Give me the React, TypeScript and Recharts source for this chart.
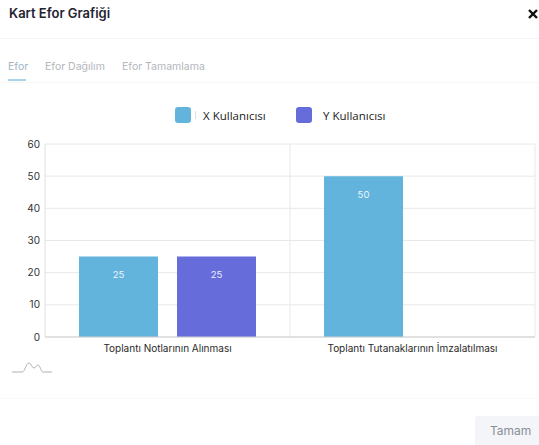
import React from "react";
import { BarChart, Bar, XAxis, YAxis, CartesianGrid, Legend, LabelList } from "recharts";

const categories = ["Toplantı Notlarının Alınması", "Toplantı Tutanaklarının İmzalatılması"];
const xKullanici = [25, 50];
const yKullanici = [25, 0];
const yTicks = [0, 10, 20, 30, 40, 50, 60];
const tabs = ["Efor", "Efor Dağılım", "Efor Tamamlama"];

const data = categories.map((name, i) => ({ name, x: xKullanici[i], y: yKullanici[i] }));

const X_COLOR = "#63b4dc";
const Y_COLOR = "#666ddb";
const FONT = "Inter, 'Noto Sans', sans-serif";

function renderLegend(props: any) {
  const payload = props.payload || [];
  return (
    <div style={{ height: 44, position: "relative", paddingLeft: 175, display: "flex", alignItems: "flex-start" }}>
      {payload.map((p: any, i: number) => (
        <div key={i} style={{ display: "flex", alignItems: "center", width: 121, marginTop: 7 }}>
          <span style={{ width: 16, height: 16, borderRadius: 3, background: p.color, display: "inline-block" }} />
          {i === 0 && <span style={{ width: 1, height: 8, background: "#ddd", marginLeft: 4, marginRight: -5 }} />}
          <span style={{ marginLeft: i === 0 ? 12 : 11, fontFamily: "'Open Sans', sans-serif", fontSize: 11.5, color: "#222" }}>{p.value}</span>
        </div>
      ))}
    </div>
  );
}

const fmt = (v: any) => (v ? v : "");

export default function App() {
  return (
    <div style={{ position: "absolute", left: 0, top: 0, width: 539, height: 445, background: "#fff", overflow: "hidden", fontFamily: FONT }}>
      {/* header */}
      <div style={{ position: "absolute", left: 9, top: 5, fontSize: 13, fontWeight: 600, color: "#1f2430" }}>Kart Efor Grafiği</div>
      <svg style={{ position: "absolute", left: 528, top: 9 }} width={10} height={10}>
        <line x1={1} y1={1} x2={9} y2={9} stroke="#111" strokeWidth={2.4} />
        <line x1={9} y1={1} x2={1} y2={9} stroke="#111" strokeWidth={2.4} />
      </svg>
      <div style={{ position: "absolute", left: 0, top: 38, width: 539, height: 1, background: "#f3f4f6" }} />

      {/* tabs */}
      {tabs.map((t, i) => (
        <div key={t} style={{ position: "absolute", left: [8, 45, 122][i], top: 60, fontSize: 10.5, color: i === 0 ? "#9fb3c4" : "#b3b7bd" }}>{t}</div>
      ))}
      <div style={{ position: "absolute", left: 8, top: 79, width: 18, height: 1.5, background: "#a9d5ec" }} />
      <div style={{ position: "absolute", left: 0, top: 82, width: 539, height: 1, background: "#f7f7f8" }} />

      {/* chart */}
      <div style={{ position: "absolute", left: 0, top: 95 }}>
        <BarChart width={539} height={285} data={data} margin={{ top: 5, right: 4, left: 0, bottom: 13 }} barGap={19} barCategoryGap={34}>
          <CartesianGrid
            stroke="#e8e8e8"
            verticalCoordinatesGenerator={({ offset }: any) => [offset.left + offset.width / 2, offset.left + offset.width]}
          />
          <XAxis
            dataKey="name"
            tick={{ fontSize: 10, fill: "#2a2a2a", fontFamily: FONT }}
            tickLine={false}
            axisLine={{ stroke: "#cfcfcf" }}
          />
          <YAxis
            width={45}
            domain={[0, 60]}
            ticks={yTicks}
            tick={{ fontSize: 10, fill: "#333", fontFamily: FONT }}
            tickLine={false}
            tickSize={3}
            tickMargin={2}
            axisLine={{ stroke: "#e0e0e0" }}
          />
          <Legend verticalAlign="top" content={renderLegend} />
          <Bar dataKey="x" name="X Kullanıcısı" fill={X_COLOR} isAnimationActive={false}>
            <LabelList dataKey="x" position="insideTop" offset={15} formatter={fmt} style={{ fill: "#eef4fb", fontSize: 9.5, fontFamily: FONT }} />
          </Bar>
          <Bar dataKey="y" name="Y Kullanıcısı" fill={Y_COLOR} isAnimationActive={false}>
            <LabelList dataKey="y" position="insideTop" offset={15} formatter={fmt} style={{ fill: "#eef0fb", fontSize: 9.5, fontFamily: FONT }} />
          </Bar>
        </BarChart>
      </div>

      {/* small decoration */}
      <svg style={{ position: "absolute", left: 0, top: 0 }} width={60} height={380}>
        <path d="M12 372 H22 C25 372 26 363 29 363 C31 363 32 368 34 368 C36 368 36 365 38 365 C40 365 41 372 43 372 H52" fill="none" stroke="#a8a8a8" strokeWidth={0.9} />
      </svg>

      {/* footer */}
      <div style={{ position: "absolute", left: 0, top: 398, width: 539, height: 1, background: "#fafafa" }} />
      <div style={{ position: "absolute", left: 475, top: 416, width: 70, height: 34, background: "#f3f5f8", borderRadius: 3 }} />
      <div style={{ position: "absolute", left: 490, top: 423, fontSize: 12, color: "#8a8f98" }}>Tamam</div>
    </div>
  );
}
